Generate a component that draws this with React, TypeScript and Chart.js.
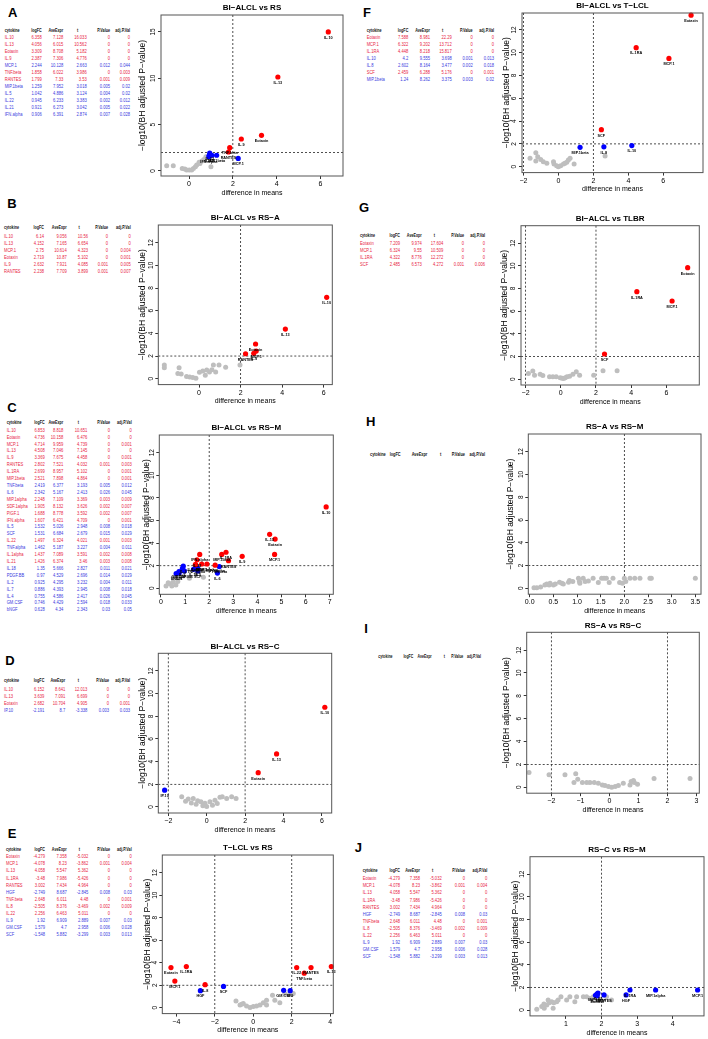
import React, { useEffect, useRef } from "react";
import { Chart, registerables } from "chart.js";
Chart.register(...registerables);

const FONT = "'Liberation Sans', Arial, Helvetica, sans-serif";
Chart.defaults.font.family = FONT;

const RED = "#ff0000";
const BLUE = "#0000ff";
const GRAY = "#bebebe";
const TXT_RED = "#e8243f";
const TXT_BLUE = "#3a3ae0";

// ---------- Panel A: BI-ALCL vs RS ----------
const A_cyto = ["IL.10", "IL.13", "Eotaxin", "IL.9", "MCP.1", "TNF.beta", "RANTES", "MIP.1beta", "IL.5", "IL.22", "IL.21", "IFN.alpha"];
const A_logFC = ["6.358", "4.056", "3.309", "2.387", "2.244", "1.858", "1.799", "1.259", "1.042", "0.945", "0.921", "0.906"];
const A_ave = ["7.128", "6.015", "8.708", "7.306", "10.128", "6.022", "7.33", "7.952", "4.886", "6.233", "6.273", "6.391"];
const A_t = ["16.033", "10.562", "5.182", "4.776", "2.663", "3.986", "3.53", "3.018", "3.124", "3.383", "3.042", "2.874"];
const A_p = ["0", "0", "0", "0", "0.012", "0", "0.001", "0.005", "0.004", "0.002", "0.005", "0.007"];
const A_adj = ["0", "0", "0", "0", "0.044", "0.003", "0.009", "0.02", "0.02", "0.012", "0.022", "0.028"];
const A_sigY = [15, 10.14, 3.85, 3.45, 1.36, 2.52, 2.05, 1.7, 1.7, 1.92, 1.66, 1.55];
const A_grayX = [-1.02, -0.72, -0.31, -0.11, 0.01, 0.12, 0.2, 0.29, 0.35, 0.46, 0.5, 0.59, 0.68, 0.77, 1.0, -0.19];
const A_grayY = [0.57, 0.57, 0.28, 0.1, 0.1, 0.1, 0.28, 0.46, 0.64, 0.93, 0.82, 1.07, 1.25, 1.54, 0.46, 0.21];

// ---------- Panel B: BI-ALCL vs RS-A ----------
const B_cyto = ["IL.10", "IL.13", "MCP.1", "Eotaxin", "IL.9", "RANTES"];
const B_logFC = ["6.14", "4.152", "2.75", "2.719", "2.632", "2.238"];
const B_ave = ["9.056", "7.165", "10.614", "10.87", "7.921", "7.709"];
const B_t = ["10.56", "6.654", "4.323", "5.102", "4.085", "3.899"];
const B_p = ["0", "0", "0", "0", "0.001", "0.001"];
const B_adj = ["0", "0", "0.004", "0.001", "0.005", "0.007"];
const B_sigY = [7.18, 4.38, 2.44, 3.06, 2.24, 2.2];
const B_grayX = [-1.67, -1.67, -0.96, -1.02, -0.86, -0.6, -0.45, -0.3, -0.15, 0.02, 0.18, 0.37, 0.3, 0.5, 0.62, 0.69, 0.96, 1.28, 1.97, 0.8];
const B_grayY = [1.2, 0.97, 0.97, 0.47, 0.42, 0.2, 0.15, 0.1, 0.05, 0.57, 0.68, 0.77, 0.3, 0.6, 0.8, 1.2, 1.2, 1.0, 1.2, 0.6];

// ---------- Panel C: BI-ALCL vs RS-M ----------
const C_cyto = ["IL.10", "Eotaxin", "MCP.1", "IL.13", "IL.9", "RANTES", "IL.1RA", "MIP.1beta", "TNF.beta", "IL.6", "MIP.1alpha", "SDF.1alpha", "PIGF.1", "IFN.alpha", "IL.5", "SCF", "IL.22", "TNF.alpha", "IL.1alpha", "IL.21", "IL.18", "PDGF.BB", "IL.2", "IL.7", "IL.4", "GM.CSF", "bNGF"];
const C_logFC = ["6.853", "4.736", "4.714", "4.508", "3.369", "2.802", "2.699", "2.521", "2.419", "2.342", "2.248", "1.905", "1.688", "1.607", "1.532", "1.531", "1.497", "1.462", "1.437", "1.426", "1.35", "0.97", "0.925", "0.886", "0.755", "0.746", "0.628"];
const C_ave = ["8.818", "10.158", "9.959", "7.046", "7.675", "7.521", "8.957", "7.898", "6.377", "5.167", "7.109", "8.132", "8.778", "6.421", "5.026", "6.684", "6.324", "5.187", "7.089", "6.374", "5.666", "4.529", "4.295", "4.393", "4.586", "4.429", "4.34"];
const C_t = ["10.651", "6.476", "4.739", "7.145", "4.458", "4.032", "5.102", "4.864", "3.193", "2.413", "3.369", "3.626", "3.592", "4.709", "2.948", "2.679", "4.021", "3.227", "3.591", "3.46", "2.827", "2.696", "3.232", "2.945", "2.417", "2.594", "2.343"];
const C_p = ["0", "0", "0", "0", "0", "0.001", "0", "0", "0.005", "0.026", "0.003", "0.002", "0.002", "0", "0.008", "0.015", "0.001", "0.004", "0.002", "0.003", "0.011", "0.014", "0.004", "0.008", "0.026", "0.018", "0.03"];
const C_adj = ["0", "0", "0.001", "0", "0.001", "0.003", "0.001", "0.001", "0.012", "0.045", "0.009", "0.007", "0.007", "0.001", "0.018", "0.029", "0.003", "0.011", "0.008", "0.008", "0.021", "0.029", "0.011", "0.018", "0.045", "0.033", "0.05"];
const C_sigY = [7.2, 4.36, 3.0, 4.78, 2.83, 2.44, 3.19, 3.0, 1.92, 1.35, 2.05, 2.15, 2.15, 3.0, 1.74, 1.54, 2.52, 1.96, 2.1, 2.1, 1.68, 1.54, 1.96, 1.74, 1.35, 1.48, 1.3];
const C_grayX = [0.21, 0.37, 0.51, 0.62, 0.51, 0.93, 1.18, 1.76, 0.3, 0.45, 0.7];
const C_grayY = [0.2, 0.4, 0.58, 0.29, 0.94, 1.09, 0.88, 0.97, 0.5, 0.2, 0.6];

// ---------- Panel D: BI-ALCL vs RS-C ----------
const D_cyto = ["IL.10", "IL.13", "Eotaxin", "IP.10"];
const D_logFC = ["6.152", "3.639", "2.682", "-2.191"];
const D_ave = ["8.641", "7.091", "10.704", "8.7"];
const D_t = ["12.013", "6.699", "4.905", "-3.338"];
const D_p = ["0", "0", "0", "0.003"];
const D_adj = ["0", "0", "0.001", "0.033"];
const D_sigY = [8.8, 4.68, 3.03, 1.48];
const D_grayX = [-1.3, -0.96, -0.7, -0.47, -0.3, -0.09, 0.17, 0.43, 0.69, 0.81, 1.04, 1.3, 1.53, -1.1, -0.8, -0.55, -0.2, 0.0, 0.3, 0.55];
const D_grayY = [0.91, 0.7, 0.75, 0.55, 0.47, 0.32, 0.47, 0.6, 0.85, 0.91, 0.75, 0.91, 0.75, 0.5, 0.35, 0.25, 0.1, 0.05, 0.15, 0.3];

// ---------- Panel E: T-LCL vs RS (table also reprinted for J) ----------
const E_cyto = ["Eotaxin", "MCP.1", "IL.13", "IL.1RA", "RANTES", "HGF", "TNF.beta", "IL.8", "IL.22", "IL.9", "GM.CSF", "SCF"];
const E_logFC = ["-4.279", "-4.078", "4.058", "-3.48", "3.002", "-2.749", "2.648", "-2.505", "2.256", "1.92", "1.579", "-1.548"];
const E_ave = ["7.358", "8.23", "5.547", "7.986", "7.434", "8.687", "6.011", "8.376", "6.463", "6.909", "4.7", "5.882"];
const E_t = ["-5.032", "-3.862", "5.362", "-5.426", "4.964", "-2.845", "4.48", "-3.469", "5.011", "2.889", "2.958", "-3.299"];
const E_p = ["0", "0.001", "0", "0", "0", "0.008", "0", "0.002", "0", "0.007", "0.006", "0.003"];
const E_adj = ["0", "0.004", "0", "0", "0", "0.03", "0.001", "0.009", "0", "0.03", "0.028", "0.013"];
const E_sigY = [3.57, 2.37, 3.66, 3.66, 3.57, 1.52, 3.07, 2.05, 3.57, 1.52, 1.55, 1.89];
const E_grayX = [-0.9, -0.69, -0.52, -0.35, -0.17, 0, 0.17, 0.35, 0.52, 0.69, 1.0, 1.12, 1.38, 1.64, 1.9, 2.08, 0.69, -0.6];
const E_grayY = [0.59, 0.24, 0.38, 0.15, 0.03, 0.1, 0.15, 0.24, 0.44, 0.67, 1.11, 0.67, 0.44, 1.26, 1.26, 1.26, 0.24, 0.3];

// ---------- Panel F: BI-ALCL vs T-LCL ----------
const F_cyto = ["Eotaxin", "MCP.1", "IL.1RA", "IL.10", "IL.8", "SCF", "MIP.1beta"];
const F_logFC = ["7.588", "6.322", "4.448", "4.2", "2.602", "2.459", "1.24"];
const F_ave = ["8.981", "9.202", "8.218", "9.555", "8.164", "6.288", "8.262"];
const F_t = ["22.29", "13.712", "15.817", "3.698", "3.477", "5.176", "3.375"];
const F_p = ["0", "0", "0", "0.001", "0.002", "0", "0.003"];
const F_adj = ["0", "0", "0", "0.013", "0.018", "0.001", "0.02"];
const F_sigY = [13.3, 9.5, 10.45, 1.85, 1.74, 3.25, 1.7];
const F_grayX = [-1.62, -1.29, -1.18, -1.01, -0.86, -0.66, -0.28, -0.25, -0.1, 0, 0.13, 0.29, 0.38, 0.48, 0.57, 0.67, 0.9, 2.67, -1.29];
const F_grayY = [0.73, 1.23, 0.88, 0.64, 0.44, 0.29, 0.44, 0.24, 0.09, 0.0, 0.09, 0.24, 0.29, 0.38, 0.58, 0.73, 0.24, 0.94, 0.5];

// ---------- Panel G: BI-ALCL vs TLBR ----------
const G_cyto = ["Eotaxin", "MCP.1", "IL.1RA", "SCF"];
const G_logFC = ["7.209", "6.324", "4.322", "2.485"];
const G_ave = ["9.974", "9.55", "8.776", "6.573"];
const G_t = ["17.604", "10.509", "12.272", "4.272"];
const G_p = ["0", "0", "0", "0.001"];
const G_adj = ["0", "0", "0", "0.006"];
const G_sigY = [9.84, 6.9, 7.72, 2.22];
const G_grayX = [-1.84, -1.59, -1.49, -1.17, -1.02, -0.64, -0.45, -0.26, -0.03, 0.08, 0.16, 0.25, 0.35, 0.5, 0.69, 0.88, 1.07, 1.87, 2.4, 3.2];
const G_grayY = [0.5, 0.71, 0.35, 0.44, 0.32, 0.2, 0.2, 0.2, 0.12, 0.08, 0.06, 0.12, 0.2, 0.26, 0.44, 0.65, 0.35, 0.35, 0.74, 0.74];

// ---------- Panel H: RS-A vs RS-M (no significant cytokines) ----------
const H_grayX = [0.09, 0.15, 0.23, 0.32, 0.36, 0.41, 0.43, 0.5, 0.54, 0.63, 0.68, 0.71, 0.82, 0.84, 0.91, 1.03, 1.05, 1.06, 1.13, 1.17, 1.24, 1.34, 1.45, 1.52, 1.57, 1.62, 1.68, 1.76, 1.9, 1.96, 2.0, 2.03, 2.12, 2.22, 2.33, 2.54, 2.57, 3.5];
const H_grayY = [0.05, 0.05, 0.11, 0.29, 0.38, 0.29, 0.44, 0.29, 0.38, 0.53, 0.44, 0.38, 0.53, 0.68, 0.59, 0.88, 0.59, 0.44, 0.88, 0.59, 0.65, 0.88, 0.5, 0.88, 0.88, 0.88, 0.5, 0.88, 0.5, 0.44, 0.88, 0.59, 0.88, 0.88, 0.88, 0.88, 0.88, 0.88];

// ---------- Panel I: RS-A vs RS-C (no significant cytokines) ----------
const I_grayX = [-2.77, -2.08, -1.53, -1.16, -1.22, -1.09, -0.93, -0.78, -0.67, -0.52, -0.38, -0.24, -0.15, -0.03, 0.08, 0.2, 0.31, 0.48, 0.71, 0.75, 0.83, 0.86, 0.97, 1.54, 2.78];
const I_grayY = [1.3, 1.09, 1.09, 1.18, 0.41, 0.71, 0.41, 0.41, 0.41, 0.41, 0.35, 0.2, 0.15, 0.06, 0.0, 0.06, 0.15, 0.35, 0.2, 0.5, 0.59, 0.41, 0.26, 0.77, 0.77];

// ---------- Panel J: RS-C vs RS-M ----------
const J_sigNames = ["MCP.1", "MIP.1alpha", "IL.1RA", "HGF", "RANTES", "MIP.1beta", "IL.22", "IL.13", "Eotaxin"];
const J_sigX = [4.7, 3.52, 2.8, 2.69, 2.07, 1.87, 1.9, 1.83, 1.88];
const J_sigY = [1.77, 1.77, 1.77, 1.33, 1.33, 1.4, 1.5, 1.3, 1.25];
const J_grayX = [0.18, 0.32, 0.38, 0.46, 0.53, 0.6, 0.66, 0.74, 0.39, 0.5, 0.64, 0.78, 0.86, 1.02, 1.11, 1.25, 1.3, 1.49, 1.58, 1.67, 1.77, 2.14, 2.28, 1.96];
const J_grayY = [0.06, 0.3, 0.53, 0.44, 0.65, 0.74, 0.65, 0.74, 0.15, 0.88, 0.15, 0.88, 1.18, 0.88, 1.18, 0.74, 1.18, 1.18, 1.18, 1.03, 1.18, 1.18, 0.88, 0.88];

const Y_TICKS_13 = [0, 2, 4, 6, 8, 10, 12];
const Y_TICKS_A = [0, 5, 10, 15];

type Spec = {
  box: [number, number, number, number];
  xr: [number, number];
  yr: [number, number];
  xticks: number[];
  yticks: number[];
  xdec: number;
  title: string;
  yTitleX: number;
  sigNames: string[];
  sigX: number[];
  sigY: number[];
  grayX: number[];
  grayY: number[];
};

const num = (a: string[]) => a.map((v) => Number(v));

const SPECS: Spec[] = [
  { box: [161, 15, 343, 176], xr: [-1.28, 7.03], yr: [-0.54, 16.83], xticks: [0, 2, 4, 6], yticks: Y_TICKS_A, xdec: 0, title: "BI−ALCL vs RS", yTitleX: 143, sigNames: A_cyto, sigX: num(A_logFC), sigY: A_sigY, grayX: A_grayX, grayY: A_grayY },
  { box: [158.3, 225, 332.3, 384.6], xr: [-1.96, 6.41], yr: [-0.52, 13.56], xticks: [0, 2, 4, 6], yticks: Y_TICKS_13, xdec: 0, title: "BI−ALCL vs RS−A", yTitleX: 142.7, sigNames: B_cyto, sigX: num(B_logFC), sigY: B_sigY, grayX: B_grayX, grayY: B_grayY },
  { box: [159.3, 435, 333.3, 594.3], xr: [-0.07, 7.15], yr: [-0.53, 13.57], xticks: [0, 1, 2, 3, 4, 5, 6, 7], yticks: Y_TICKS_13, xdec: 0, title: "BI−ALCL vs RS−M", yTitleX: 146.7, sigNames: C_cyto, sigX: num(C_logFC), sigY: C_sigY, grayX: C_grayX, grayY: C_grayY },
  { box: [158.3, 653.3, 331.7, 813], xr: [-2.52, 6.51], yr: [-0.53, 13.56], xticks: [-2, 0, 2, 4, 6], yticks: Y_TICKS_13, xdec: 0, title: "BI−ALCL vs RS−C", yTitleX: 142.7, sigNames: D_cyto, sigX: num(D_logFC), sigY: D_sigY, grayX: D_grayX, grayY: D_grayY },
  { box: [162.3, 855, 333.3, 1013.6], xr: [-4.73, 4.16], yr: [-0.52, 13.57], xticks: [-4, -2, 0, 2, 4], yticks: Y_TICKS_13, xdec: 0, title: "T−LCL vs RS", yTitleX: 148.3, sigNames: E_cyto, sigX: num(E_logFC), sigY: E_sigY, grayX: E_grayX, grayY: E_grayY },
  { box: [522, 13, 703, 172.6], xr: [-2.08, 8.27], yr: [-0.52, 13.49], xticks: [-2, 0, 2, 4, 6], yticks: Y_TICKS_13, xdec: 0, title: "BI−ALCL vs T−LCL", yTitleX: 507.3, sigNames: F_cyto, sigX: num(F_logFC), sigY: F_sigY, grayX: F_grayX, grayY: F_grayY },
  { box: [521, 225.7, 699.3, 385], xr: [-2.26, 7.87], yr: [-0.52, 13.55], xticks: [-2, 0, 2, 4, 6], yticks: Y_TICKS_13, xdec: 0, title: "BI−ALCL vs TLBR", yTitleX: 505, sigNames: G_cyto, sigX: num(G_logFC), sigY: G_sigY, grayX: G_grayX, grayY: G_grayY },
  { box: [528.3, 434, 701, 594.2], xr: [-0.03, 3.62], yr: [-0.52, 13.56], xticks: [0, 0.5, 1, 1.5, 2, 2.5, 3, 3.5], yticks: Y_TICKS_13, xdec: 1, title: "RS−A vs RS−M", yTitleX: 511, sigNames: [], sigX: [], sigY: [], grayX: H_grayX, grayY: H_grayY },
  { box: [526.7, 632.3, 699.3, 793.2], xr: [-2.85, 3.1], yr: [-0.52, 13.56], xticks: [-2, -1, 0, 1, 2, 3], yticks: Y_TICKS_13, xdec: 0, title: "RS−A vs RS−C", yTitleX: 506.7, sigNames: [], sigX: [], sigY: [], grayX: I_grayX, grayY: I_grayY },
  { box: [530, 856.7, 704, 1015.9], xr: [-0.01, 4.88], yr: [-0.52, 13.55], xticks: [1, 2, 3, 4], yticks: Y_TICKS_13, xdec: 0, title: "RS−C vs RS−M", yTitleX: 515.7, sigNames: J_sigNames, sigX: J_sigX, sigY: J_sigY, grayX: J_grayX, grayY: J_grayY },
];

type TableSpec = {
  x0: number;
  rights: number[];
  hy: number;
  row0: number;
  dy: number;
  fs: number;
  hfs: number;
  cols: string[][];
};

const TABLES: TableSpec[] = [
  { x0: 4.7, rights: [41.7, 63.3, 86.7, 110, 130], hy: 31.7, row0: 38.3, dy: 6.95, fs: 4.1, hfs: 3.7, cols: [A_cyto, A_logFC, A_ave, A_t, A_p, A_adj] },
  { x0: 4, rights: [44, 66.7, 88, 108, 130.7], hy: 228.7, row0: 236.7, dy: 7.06, fs: 4.1, hfs: 3.7, cols: [B_cyto, B_logFC, B_ave, B_t, B_p, B_adj] },
  { x0: 6.7, rights: [44.7, 63.3, 87.3, 110, 131.7], hy: 424, row0: 430.7, dy: 6.91, fs: 4.1, hfs: 3.7, cols: [C_cyto, C_logFC, C_ave, C_t, C_p, C_adj] },
  { x0: 4, rights: [44.3, 65.3, 87.3, 109, 130], hy: 682.3, row0: 690, dy: 7.1, fs: 4.1, hfs: 3.7, cols: [D_cyto, D_logFC, D_ave, D_t, D_p, D_adj] },
  { x0: 6, rights: [45, 66.7, 88.3, 110, 131.7], hy: 850.7, row0: 857.3, dy: 7.09, fs: 4.1, hfs: 3.7, cols: [E_cyto, E_logFC, E_ave, E_t, E_p, E_adj] },
  { x0: 366.7, rights: [408.3, 430, 451.7, 472.7, 494], hy: 32.3, row0: 38.3, dy: 7.0, fs: 4.1, hfs: 3.7, cols: [F_cyto, F_logFC, F_ave, F_t, F_p, F_adj] },
  { x0: 360, rights: [400, 421.7, 443.3, 464, 485], hy: 237.3, row0: 244, dy: 6.9, fs: 4.1, hfs: 3.7, cols: [G_cyto, G_logFC, G_ave, G_t, G_p, G_adj] },
  { x0: 370, rights: [400.7, 427.3, 449.7, 465, 485], hy: 455, row0: 462, dy: 7, fs: 4.1, hfs: 3.9, cols: [[], [], [], [], [], []] },
  { x0: 378.3, rights: [413.3, 431.7, 453.3, 463.3, 481], hy: 657.7, row0: 664, dy: 7, fs: 4.1, hfs: 3.5, cols: [[], [], [], [], [], []] },
  { x0: 362.7, rights: [400, 420, 441.7, 465, 487.3], hy: 872.3, row0: 879.3, dy: 7.09, fs: 4.1, hfs: 3.7, cols: [E_cyto, E_logFC, E_ave, E_t, E_p, E_adj] },
];

const LETTERS: [string, number, number][] = [
  ["A", 12.7, 11.7], ["B", 12, 203], ["C", 12, 407], ["D", 10, 660], ["E", 12, 833],
  ["F", 367, 11.7], ["G", 364, 206.7], ["H", 370.7, 420.7], ["I", 366, 628], ["J", 358.3, 847.3],
];

const fmtTick = (v: number, dec: number) => (v < 0 ? "−" : "") + Math.abs(v).toFixed(dec);

function Volcano({ s }: { s: Spec }) {
  const ref = useRef<HTMLCanvasElement | null>(null);
  const [l, t, r, b] = s.box;
  const XH = 21;
  const cl = Math.round(s.yTitleX - 5);
  const ct = Math.round(t - 16);
  const padL = l - cl;
  const padT = t - ct;
  const cw = Math.ceil(r - cl + 4);
  const ch = Math.ceil(b - ct + XH + 2);
  const padR = cw - (r - cl);
  const padB = ch - (b - ct) - XH;

  useEffect(() => {
    const cv = ref.current;
    if (!cv) return;
    const pts = s.sigNames.map((n, i) => ({ x: s.sigX[i], y: s.sigY[i], n }));
    const red = pts.filter((p) => p.y > 2);
    const blue = pts.filter((p) => p.y <= 2);
    const gray = s.grayX.map((x, i) => ({ x, y: s.grayY[i] }));

    const plugin = {
      id: "volcanoDecor",
      beforeDatasetsDraw(c: any) {
        const { ctx, chartArea: a } = c;
        const xs = c.scales.x;
        const ys = c.scales.y;
        ctx.save();
        ctx.strokeStyle = "#222";
        ctx.lineWidth = 0.8;
        ctx.setLineDash([2, 2]);
        const yy = ys.getPixelForValue(2);
        ctx.beginPath();
        ctx.moveTo(a.left, yy);
        ctx.lineTo(a.right, yy);
        ctx.stroke();
        for (const v of [-2, 2]) {
          if (v > xs.min && v < xs.max) {
            const xx = xs.getPixelForValue(v);
            ctx.beginPath();
            ctx.moveTo(xx, a.top);
            ctx.lineTo(xx, a.bottom);
            ctx.stroke();
          }
        }
        ctx.restore();
      },
      afterDatasetsDraw(c: any) {
        const { ctx } = c;
        const xs = c.scales.x;
        const ys = c.scales.y;
        ctx.save();
        ctx.fillStyle = "#000";
        ctx.font = `bold 3.8px ${FONT}`;
        ctx.textAlign = "center";
        ctx.textBaseline = "middle";
        pts.forEach((p) => {
          ctx.fillText(p.n, xs.getPixelForValue(p.x), ys.getPixelForValue(p.y) + 5.8);
        });
        ctx.restore();
      },
      afterDraw(c: any) {
        const { ctx, chartArea: a } = c;
        const ys = c.scales.y;
        ctx.save();
        ctx.strokeStyle = "#555";
        ctx.lineWidth = 1;
        ctx.setLineDash([]);
        ctx.strokeRect(a.left, a.top, a.right - a.left, a.bottom - a.top);
        ctx.fillStyle = "#000";
        ctx.font = `6.5px ${FONT}`;
        ctx.textAlign = "center";
        ctx.textBaseline = "middle";
        s.yticks.forEach((v) => {
          const y = ys.getPixelForValue(v);
          ctx.save();
          ctx.translate(a.left - 7.5, y);
          ctx.rotate(-Math.PI / 2);
          ctx.fillText(String(v), 0, 0);
          ctx.restore();
        });
        ctx.font = `bold 8px ${FONT}`;
        ctx.textBaseline = "middle";
        ctx.fillText(s.title, (a.left + a.right) / 2, a.top - 7);
        ctx.restore();
      },
    };

    const chart = new Chart(cv, {
      type: "scatter",
      data: {
        datasets: [
          { data: red, pointBackgroundColor: RED, pointBorderColor: RED, pointBorderWidth: 0, pointRadius: 2.6, clip: false } as any,
          { data: blue, pointBackgroundColor: BLUE, pointBorderColor: BLUE, pointBorderWidth: 0, pointRadius: 2.6, clip: false } as any,
          { data: gray, pointBackgroundColor: GRAY, pointBorderColor: GRAY, pointBorderWidth: 0, pointRadius: 2.5 } as any,
        ],
      },
      options: {
        animation: false,
        responsive: false,
        maintainAspectRatio: false,
        devicePixelRatio: 1,
        events: [],
        layout: { padding: { left: 0, top: padT, right: padR, bottom: padB } },
        plugins: { legend: { display: false }, tooltip: { enabled: false }, title: { display: false } },
        scales: {
          x: {
            type: "linear",
            position: "bottom",
            min: s.xr[0],
            max: s.xr[1],
            afterBuildTicks: (sc: any) => {
              sc.ticks = s.xticks.map((v) => ({ value: v }));
            },
            afterFit: (sc: any) => {
              sc.height = XH;
            },
            grid: { display: true, drawOnChartArea: false, drawTicks: true, tickLength: 3, color: "#000", lineWidth: 0.8 },
            border: { display: false },
            ticks: {
              color: "#000",
              font: { size: 7 },
              padding: 1,
              maxRotation: 0,
              minRotation: 0,
              autoSkip: false,
              callback: (v: any) => fmtTick(Number(v), s.xdec),
            },
            title: { display: true, text: "difference in means", color: "#000", font: { size: 7 }, padding: 0 },
          },
          y: {
            type: "linear",
            position: "left",
            min: s.yr[0],
            max: s.yr[1],
            afterBuildTicks: (sc: any) => {
              sc.ticks = s.yticks.map((v) => ({ value: v }));
            },
            afterFit: (sc: any) => {
              sc.width = padL;
            },
            grid: { display: true, drawOnChartArea: false, drawTicks: true, tickLength: 3, color: "#000", lineWidth: 0.8 },
            border: { display: false },
            ticks: { display: false },
            title: { display: true, text: "−log10(BH adjusted P−value)", color: "#000", font: { size: 8.5 }, padding: 0 },
          },
        },
      } as any,
      plugins: [plugin],
    });
    return () => chart.destroy();
  }, []);

  return (
    <canvas
      ref={ref}
      width={cw}
      height={ch}
      style={{ position: "absolute", left: cl, top: ct, width: cw, height: ch }}
    />
  );
}

const HEADS = ["logFC", "AveExpr", "t", "P.Value", "adj.P.Val"];
const SY = " scaleY(1.3)";

function Table({ tb }: { tb: TableSpec }) {
  const base: React.CSSProperties = { position: "absolute", whiteSpace: "nowrap", lineHeight: 1 };
  const items: React.ReactNode[] = [];
  items.push(
    <span key="h0" style={{ ...base, fontSize: tb.hfs, left: tb.x0, top: tb.hy, transform: "translateY(-50%)" + SY, fontWeight: "bold", color: "#111" }}>
      cytokine
    </span>
  );
  HEADS.forEach((h, j) => {
    const isT = j === 2;
    items.push(
      <span
        key={"h" + (j + 1)}
        style={{
          ...base,
          fontSize: tb.hfs,
          left: isT ? tb.rights[j] - 9 : tb.rights[j],
          top: tb.hy,
          transform: (isT ? "translate(-50%,-50%)" : "translate(-100%,-50%)") + SY,
          fontWeight: "bold",
          color: "#111",
        }}
      >
        {h}
      </span>
    );
  });
  const names = tb.cols[0];
  names.forEach((n, i) => {
    const y = tb.row0 + i * tb.dy;
    const color = Number(tb.cols[5][i]) < 0.01 ? TXT_RED : TXT_BLUE;
    items.push(
      <span key={"r" + i + "n"} style={{ ...base, fontSize: tb.fs, left: tb.x0, top: y, transform: "translateY(-50%)" + SY, color }}>
        {n}
      </span>
    );
    for (let j = 1; j < 6; j++) {
      items.push(
        <span
          key={"r" + i + "c" + j}
          style={{ ...base, fontSize: tb.fs, left: tb.rights[j - 1], top: y, transform: "translate(-100%,-50%)" + SY, color }}
        >
          {tb.cols[j][i]}
        </span>
      );
    }
  });
  return <>{items}</>;
}

export default function App() {
  return (
    <div style={{ position: "relative", width: 708, height: 1039, background: "#fff", overflow: "hidden", fontFamily: FONT }}>
      <style>{`body{margin:0;background:#fff}`}</style>
      {LETTERS.map(([ch, x, y]) => (
        <span
          key={ch}
          style={{
            position: "absolute",
            left: x,
            top: y,
            transform: "translate(-50%,-50%)",
            fontWeight: "bold",
            fontSize: 13,
            lineHeight: 1,
            color: "#000",
          }}
        >
          {ch}
        </span>
      ))}
      {TABLES.map((tb, i) => (
        <Table key={"t" + i} tb={tb} />
      ))}
      {SPECS.map((s, i) => (
        <Volcano key={"v" + i} s={s} />
      ))}
    </div>
  );
}
